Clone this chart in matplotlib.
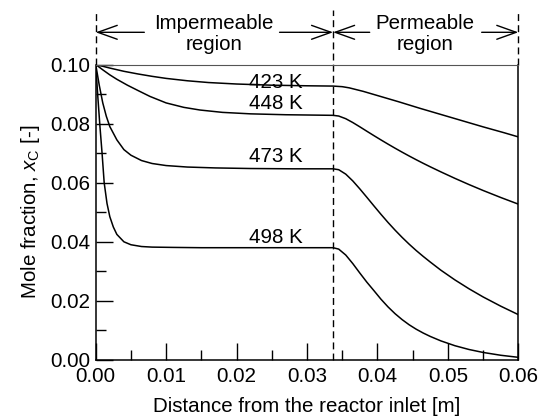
import matplotlib
matplotlib.use('Agg')
import matplotlib.pyplot as plt
from matplotlib.ticker import MultipleLocator

plt.rcParams['font.family'] = ['Liberation Sans', 'DejaVu Sans']
plt.rcParams['mathtext.fontset'] = 'custom'
plt.rcParams['mathtext.rm'] = 'Liberation Sans'
plt.rcParams['mathtext.it'] = 'Liberation Sans:italic'
plt.rcParams['font.size'] = 14.8

# 膜の境界位置 [m]
x_boundary = 0.0337
x_end = 0.06

# 各温度の曲線
x_423 = [0, 0.002, 0.004, 0.006, 0.008, 0.010, 0.013, 0.016, 0.020, 0.025, 0.030, 0.0337,
         0.035, 0.036, 0.038, 0.040, 0.043, 0.046, 0.049, 0.052, 0.055, 0.058, 0.060]
y_423 = [0.1000, 0.0988, 0.0977, 0.0968, 0.0960, 0.0953, 0.0945, 0.0939, 0.0934, 0.0930, 0.0928, 0.0927,
         0.0925, 0.0921, 0.0909, 0.0895, 0.0874, 0.0852, 0.0831, 0.0810, 0.0789, 0.0769, 0.0755]

x_448 = [0, 0.001, 0.002, 0.003, 0.0045, 0.006, 0.0077, 0.010, 0.0125, 0.0148, 0.018, 0.022, 0.027, 0.0337,
         0.0345, 0.0355, 0.0365, 0.0375, 0.0385, 0.0395, 0.0405, 0.0415, 0.0425, 0.0435, 0.0445,
         0.0455, 0.0465, 0.0475, 0.049, 0.051, 0.053, 0.055, 0.0575, 0.060]
y_448 = [0.1000, 0.0982, 0.0965, 0.0950, 0.0930, 0.0912, 0.0892, 0.0870, 0.0855, 0.0846, 0.0838, 0.0833, 0.0830, 0.0828,
         0.08256, 0.08166, 0.08036, 0.07891, 0.07741, 0.07593, 0.07448, 0.07306, 0.07168, 0.07034, 0.06904,
         0.06778, 0.06656, 0.06538, 0.06367, 0.06147, 0.05937, 0.05737, 0.05500, 0.05275]

x_473 = [0, 0.0005, 0.001, 0.0015, 0.002, 0.003, 0.004, 0.005, 0.0065, 0.008, 0.010, 0.013, 0.017, 0.022, 0.028, 0.0337,
         0.0345, 0.0355, 0.0365, 0.0375, 0.0385, 0.0395, 0.0405, 0.0415, 0.0425, 0.0435, 0.0445,
         0.0455, 0.0465, 0.0475, 0.049, 0.051, 0.053, 0.055, 0.0575, 0.060]
y_473 = [0.100, 0.093, 0.087, 0.0825, 0.079, 0.0745, 0.0712, 0.0693, 0.0675, 0.0665, 0.0658, 0.0653, 0.0650, 0.0648, 0.0647, 0.0647,
         0.0644, 0.0629, 0.0606, 0.0579, 0.05505, 0.05215, 0.0493, 0.04655, 0.04395, 0.0415, 0.0392,
         0.03705, 0.03505, 0.03315, 0.0304, 0.0271, 0.0241, 0.02134, 0.01822, 0.01535]

x_498 = [0, 0.0003, 0.0006, 0.0009, 0.0012, 0.0016, 0.002, 0.0025, 0.003, 0.004, 0.005, 0.0065, 0.008, 0.011, 0.015, 0.022, 0.0337,
         0.0345, 0.0355, 0.0365, 0.0375, 0.0385, 0.0395, 0.0405, 0.0415, 0.0425, 0.0435, 0.0445,
         0.0455, 0.0465, 0.0475, 0.049, 0.051, 0.053, 0.055, 0.0575, 0.060]
y_498 = [0.100, 0.089, 0.079, 0.070, 0.060, 0.053, 0.0485, 0.0450, 0.0425, 0.0400, 0.0390, 0.0384, 0.0382, 0.0381, 0.0380, 0.0380, 0.0380,
         0.03752, 0.03552, 0.03262, 0.02942, 0.02632, 0.02347, 0.02057, 0.01797, 0.01567, 0.01367, 0.01192,
         0.01042, 0.00912, 0.00797, 0.00647, 0.00483, 0.00355, 0.00255, 0.0016, 0.0009]

curves = [(x_423, y_423, '423 K', 0.0939),
          (x_448, y_448, '448 K', 0.0869),
          (x_473, y_473, '473 K', 0.0690),
          (x_498, y_498, '498 K', 0.0416)]
label_x = 0.0256

fig = plt.figure(figsize=(5.39, 4.20), dpi=100)
ax = fig.add_axes([0.1776, 0.1429, 0.7840, 0.7035])

for xs, ys, name, ly in curves:
    ax.plot(xs, ys, color='black', lw=1.1)
    ax.text(label_x, ly, name, ha='center', va='center')

ax.set_xlim(0, x_end)
ax.set_ylim(0, 0.10)

# 破線（領域の境界）
y_top = 0.1184
dash = (0, (5, 3))
ax.plot([0, 0], [0.10, y_top], ls=dash, color='black', lw=1.0, clip_on=False)
ax.plot([x_boundary, x_boundary], [0, y_top], ls=dash, color='black', lw=1.0, clip_on=False)
ax.plot([x_end, x_end], [0.10, y_top], ls=dash, color='black', lw=1.0, clip_on=False)

# 矢印と領域名
y_arrow = 0.1109
aprops = dict(arrowstyle='->,head_length=14,head_width=5', mutation_scale=1,
              shrinkA=0, shrinkB=0, color='black', lw=1.0)
arrows = [(0.0069, 0), (0.0261, x_boundary), (0.0389, x_boundary), (0.0548, x_end)]
for tail, tip in arrows:
    ax.annotate('', xy=(tip, y_arrow), xytext=(tail, y_arrow), arrowprops=aprops,
                annotation_clip=False)
ax.text(0.0168, 0.1104, 'Impermeable\nregion', ha='center', va='center',
        linespacing=1.12, clip_on=False)
ax.text(0.0467, 0.1104, 'Permeable\nregion', ha='center', va='center',
        linespacing=1.12, clip_on=False)

# 軸とラベル
ax.set_xlabel('Distance from the reactor inlet [m]', labelpad=8)
ax.set_ylabel(r'Mole fraction, $x_{\rm C}$ [-]', labelpad=6)
ax.xaxis.set_major_locator(MultipleLocator(0.01))
ax.xaxis.set_minor_locator(MultipleLocator(0.005))
ax.yaxis.set_major_locator(MultipleLocator(0.02))
ax.yaxis.set_minor_locator(MultipleLocator(0.01))
ax.xaxis.set_major_formatter(lambda v, p: f'{v:.2f}')
ax.yaxis.set_major_formatter(lambda v, p: f'{v:.2f}')
ax.tick_params(which='both', direction='in', top=False, right=False, width=1.0)
ax.tick_params(which='major', length=12)
ax.tick_params(which='minor', length=7)
ax.tick_params(axis='x', pad=5)
ax.tick_params(axis='y', pad=4)

for s in ['left', 'bottom', 'right']:
    ax.spines[s].set_linewidth(1.1)
ax.spines['top'].set_linewidth(0.8)
ax.spines['top'].set_color('#555555')

fig.savefig('out.png', dpi=100)
